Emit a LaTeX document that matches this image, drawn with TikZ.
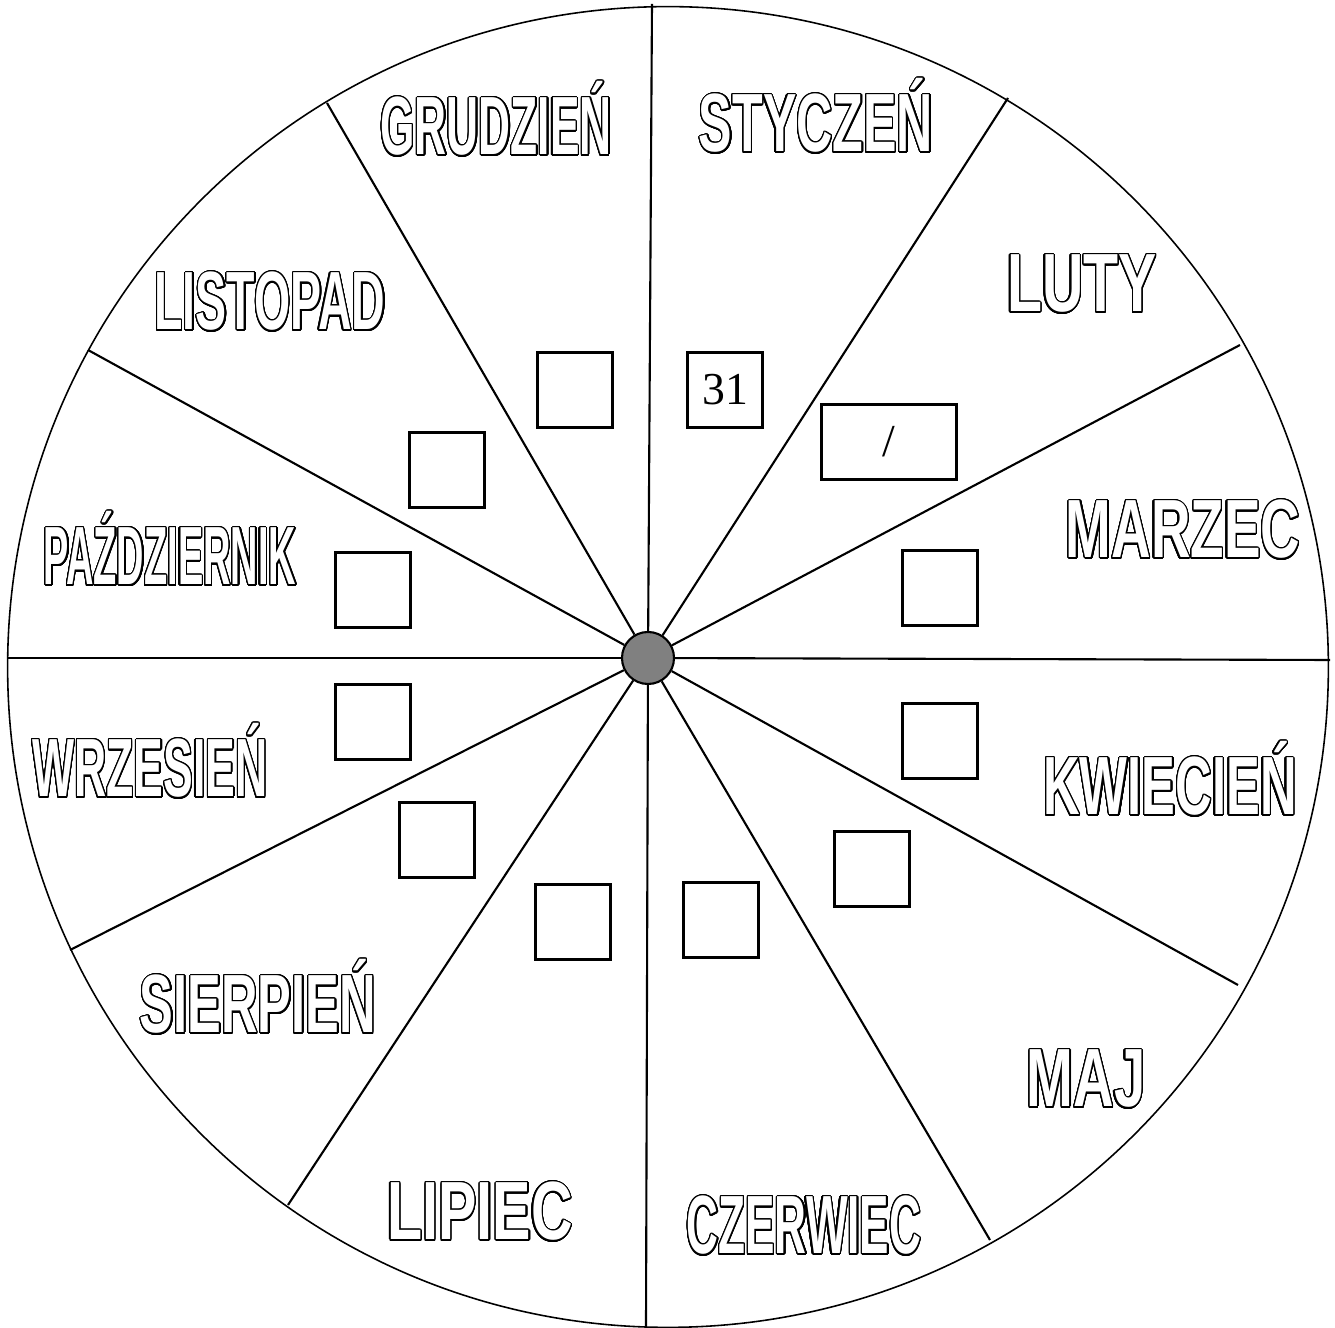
\documentclass[tikz,border=0pt]{standalone}
\usepackage{fontspec}
\usepackage{xcolor}
\usepackage{contour}
\usetikzlibrary{positioning}
\newfontfamily\monthfont{Liberation Sans Bold}
\newfontfamily\dayfont{Liberation Serif}
\definecolor{hubgray}{HTML}{808080}
\contourlength{0.38pt}
\contournumber{32}
\newcommand\monthword[2]{{\addfontfeature{FakeStretch=#1}\contour{black}{#2}}}
\tikzset{
  rim/.style={draw=black, line width=0.45pt},
  spoke/.style={draw=black, line width=0.6pt},
  hubdot/.style={circle, draw=black, fill=hubgray, line width=0.6pt, minimum size=0.52cm, inner sep=0pt},
  daybox/.style={draw=black, line width=0.6pt, minimum width=0.75cm, minimum height=0.75cm,
    inner sep=0pt, font=\dayfont\fontsize{13}{13}\selectfont},
  month/.style={anchor=base, inner sep=0pt, text=white, font=\monthfont\fontsize{23.5}{24}\selectfont}
}
\begin{document}
\begin{tikzpicture}[x=0.01cm, y=-0.01cm]
\useasboundingbox (0,0) rectangle (1335,1328);
\draw[rim] (668,667) circle[radius=6.6cm];
\node[hubdot] (hub) at (648,658) {};
\coordinate (rimjan) at (652,4);    \coordinate (rimfeb) at (1008,98);
\coordinate (rimmar) at (1240,345); \coordinate (rimapr) at (1330,660);
\coordinate (rimmay) at (1238,985); \coordinate (rimjun) at (990,1240);
\coordinate (rimjul) at (646,1328); \coordinate (rimaug) at (288,1205);
\coordinate (rimsep) at (70,950);   \coordinate (rimoct) at (8,658);
\coordinate (rimnov) at (88,350);   \coordinate (rimdec) at (327,103);
\draw[spoke] (hub)--(rimjan); \draw[spoke] (hub)--(rimfeb); \draw[spoke] (hub)--(rimmar);
\draw[spoke] (hub)--(rimapr); \draw[spoke] (hub)--(rimmay); \draw[spoke] (hub)--(rimjun);
\draw[spoke] (hub)--(rimjul); \draw[spoke] (hub)--(rimaug); \draw[spoke] (hub)--(rimsep);
\draw[spoke] (hub)--(rimoct); \draw[spoke] (hub)--(rimnov); \draw[spoke] (hub)--(rimdec);
\node[month] (jan) at (816,152) {\monthword{0.607}{STYCZEŃ}};
\node[month] (feb) at (1082,312) {\monthword{0.693}{LUTY}};
\node[month] (mar) at (1183,558) {\monthword{0.663}{MARZEC}};
\node[month] (apr) at (1170,815) {\monthword{0.613}{KWIECIEŃ}};
\node[month] (may) at (1086,1107) {\monthword{0.680}{MAJ}};
\node[month] (jun) at (804,1254) {\monthword{0.534}{CZERWIEC}};
\node[month] (jul) at (480,1240) {\monthword{0.696}{LIPIEC}};
\node[month] (aug) at (258,1033) {\monthword{0.612}{SIERPIEŃ}};
\node[month] (sep) at (150,797) {\monthword{0.539}{WRZESIEŃ}};
\node[month] (oct) at (170,585) {\monthword{0.459}{PAŹDZIERNIK}};
\node[month] (nov) at (270,330) {\monthword{0.563}{LISTOPAD}};
\node[month] (dec) at (496,155) {\monthword{0.536}{GRUDZIEŃ}};
\node[daybox] (janbox) at (725,390) {31};
\node[daybox, minimum width=1.35cm] (febbox) at (889,442) {/};
\node[daybox] (marbox) at (940,588) {};
\node[daybox] (aprbox) at (940,741) {};
\node[daybox] (maybox) at (872,869) {};
\node[daybox] (junbox) at (721,920) {};
\node[daybox] (julbox) at (573,922) {};
\node[daybox] (augbox) at (437,840) {};
\node[daybox] (sepbox) at (373,722) {};
\node[daybox] (octbox) at (373,590) {};
\node[daybox] (novbox) at (447,470) {};
\node[daybox] (decbox) at (575,390) {};
\end{tikzpicture}
\end{document}
